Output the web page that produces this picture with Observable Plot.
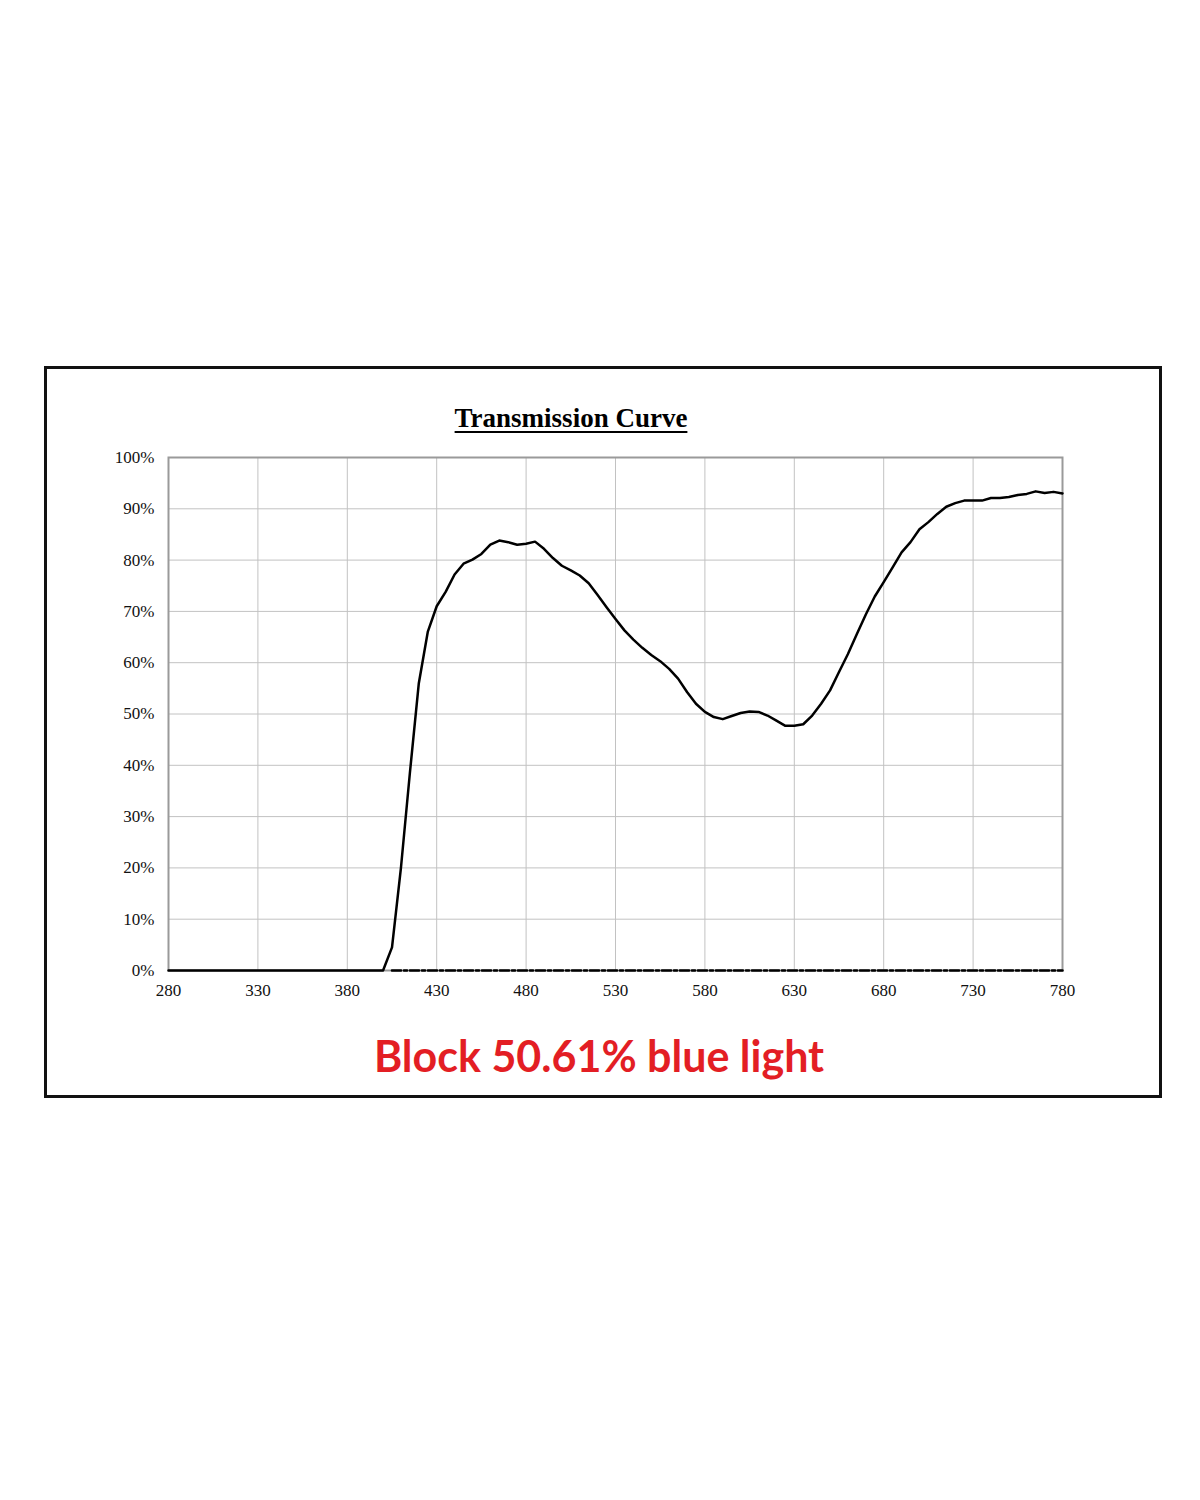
<!DOCTYPE html>
<html>
<head>
<meta charset="utf-8">
<script src="https://cdn.jsdelivr.net/npm/d3@7"></script>
<script src="https://cdn.jsdelivr.net/npm/@observablehq/plot@0.6"></script>
<style>
  html, body { margin:0; padding:0; background:#fff; }
  body { width:1200px; height:1500px; position:relative; overflow:hidden; }
  #box { position:absolute; left:44px; top:366px; width:1118px; height:732px; border:3px solid #111; box-sizing:border-box; }
  #title { position:absolute; left:371px; width:400px; top:405px; text-align:center; font-family:"Liberation Serif","Times New Roman",serif; font-weight:bold; font-size:27px; line-height:1; text-decoration:underline; text-decoration-thickness:2px; text-underline-offset:4px; color:#000; }
  #chart { position:absolute; left:44px; top:441px; }
  #chart svg { overflow:visible; }
  #note { position:absolute; left:299px; width:600px; top:1034px; text-align:center; font-family:"Lato","Noto Sans",sans-serif; font-weight:bold; font-size:43px; line-height:1; color:#e31e24; }
</style>
</head>
<body>
<div id="box"></div>
<div id="title">Transmission Curve</div>
<div id="chart"></div>
<div id="note">Block 50.61% blue light</div>
<script>
const wavelengths = [280,285,290,295,300,305,310,315,320,325,330,335,340,345,350,355,360,365,370,375,380,385,390,395,400,
  405,410,415,420,425,430,435,440,445,450,455,460,465,470,475,480,485,490,495,500,505,510,515,520,525,530,535,540,545,550,
  555,560,565,570,575,580,585,590,595,600,605,610,615,620,625,630,635,640,645,650,655,660,665,670,675,680,685,690,695,700,
  705,710,715,720,725,730,735,740,745,750,755,760,765,770,775,780];
const transmission = [0,0,0,0,0,0,0,0,0,0,0,0,0,0,0,0,0,0,0,0,0,0,0,0,0,
  4.5,20,38.5,56,66,71,73.8,77.2,79.3,80.1,81.2,83,83.8,83.5,83,83.2,83.6,82.2,80.4,78.9,78,77,75.5,73.2,70.8,68.5,66.3,64.5,62.9,61.5,
  60.3,58.8,56.9,54.3,52,50.4,49.4,49,49.6,50.2,50.5,50.4,49.7,48.7,47.7,47.7,48,49.7,52,54.6,58.2,61.7,65.6,69.4,72.9,75.7,78.6,81.5,83.5,86,
  87.4,89,90.4,91.1,91.6,91.6,91.6,92.1,92.1,92.3,92.7,92.9,93.4,93.1,93.3,93.0];
// second (dash-dot) trace lying on the 0% line
const refWavelengths = [405,780];
const refValues = [0,0];
const xTicks = [280,330,380,430,480,530,580,630,680,730,780];
const yTicks = [0,10,20,30,40,50,60,70,80,90,100];

const curve = wavelengths.map((w,i) => ({w, t: transmission[i]}));
const ref = refWavelengths.map((w,i) => ({w, t: refValues[i]}));

const chart = Plot.plot({
  width: 1118,
  height: 570,
  marginLeft: 124,
  marginRight: 100,
  marginTop: 16,
  marginBottom: 41,
  style: { fontFamily: '"Liberation Serif","Times New Roman",serif', fontSize: "17px", color: "#000", background: "transparent" },
  x: { domain: [280, 780], label: null },
  y: { domain: [0, 100], label: null },
  marks: [
    Plot.gridX(xTicks, { stroke: "#c2c2c2", strokeOpacity: 1, strokeWidth: 1 }),
    Plot.gridY(yTicks, { stroke: "#c2c2c2", strokeOpacity: 1, strokeWidth: 1 }),
    Plot.frame({ stroke: "#9a9a9a", strokeWidth: 2 }),
    Plot.axisX(xTicks, { tickSize: 0, tickPadding: 13, tickFormat: d => String(d), fill: "#111", fontSize: 17 }),
    Plot.axisY(yTicks, { tickSize: 0, tickPadding: 14, tickFormat: d => d + "%", fill: "#111", fontSize: 17 }),
    Plot.line(ref, { x: "w", y: "t", stroke: "#000", strokeWidth: 2.6, strokeDasharray: "9,3,3,3" }),
    Plot.line(curve, { x: "w", y: "t", stroke: "#000", strokeWidth: 2.5, strokeLinejoin: "round" })
  ]
});
document.getElementById("chart").appendChild(chart);
</script>
</body>
</html>
